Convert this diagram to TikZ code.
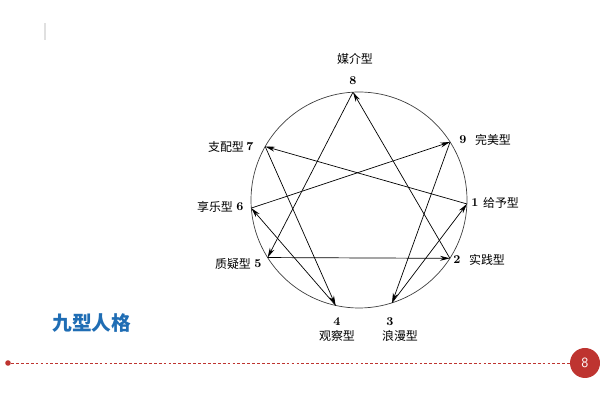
\documentclass[tikz,border=0pt]{standalone}
\usepackage{fontspec}
\newfontfamily\cjk{Noto Sans CJK SC}
\usetikzlibrary{arrows.meta,positioning,calc}
\definecolor{titleblue}{HTML}{1F6DB4}
\definecolor{pagered}{HTML}{BE3430}

\begin{document}
\begin{tikzpicture}[x=0.025cm,y=0.025cm,
    num/.style={font=\fontsize{8.5}{10}\selectfont\bfseries, inner sep=0pt},
    typ/.style={font=\fontsize{8.5}{10}\selectfont\cjk, inner sep=0pt},
    arr/.style={-{Stealth[length=7pt,width=3.5pt]}, line width=0.5pt}]
    \useasboundingbox (0,0) rectangle (600,400);

    \pgfmathsetmacro {\r}{108}          %Radius of circle
    \coordinate (c) at (359,200);       %Centre of circle
    \draw[line width=0.5pt, black!75] (c) circle (\r);

    %Loop for placing the nine points on the circle
    \foreach \n/\a in {8/93.2, 9/32.5, 1/-2.1, 2/-32.7, 3/-72.2,
                       4/-102.5, 5/-147.8, 6/-175.7, 7/150.3} {
        \coordinate (p\n) at ($(c)+(\a:\r)$);
    }

    %Loop for drawing the arrows between points
    \foreach \s/\t in {8/5, 5/2, 2/8, 1/7, 7/4, 4/6, 6/9, 9/3, 3/1} {
        \draw[arr] (p\s) -- (p\t);
    }

    % Numbers
    \node[num] (n8) at (353,319) {8};
    \node[num] (n9) at (463,260) {9};
    \node[num] (n1) at (475,197) {1};
    \node[num] (n2) at (457,140) {2};
    \node[num] (n3) at (390,78)  {3};
    \node[num] (n4) at (337,78)  {4};
    \node[num] (n5) at (258,136) {5};
    \node[num] (n6) at (240,193) {6};
    \node[num] (n7) at (250,253) {7};

    % Type names
    \node[typ] (t8) at (355,341) {媒介型};
    \node[typ] (t9) at (493,260) {完美型};
    \node[typ] (t1) at (501,197) {给予型};
    \node[typ] (t2) at (487,140) {实践型};
    \node[typ] (t3) at (400,64)  {浪漫型};
    \node[typ] (t4) at (337,64)  {观察型};
    \node[typ] (t5) at (233,136) {质疑型};
    \node[typ] (t6) at (215,193) {享乐型};
    \node[typ] (t7) at (226,253) {支配型};

    % Slide frame
    \draw[black!12, line width=1pt] (45,360) -- (45,377);
    \node[font=\fontsize{14}{16}\selectfont\cjk\bfseries, text=titleblue] (title) at (92,77) {九型人格};
    \node[circle, fill=pagered, inner sep=1.4pt] (dot) at (8,37) {};
    \node[circle, fill=pagered, minimum size=0.75cm, inner sep=0pt, text=white,
          font=\fontsize{10}{12}\selectfont\sffamily] (pg) at (585,37) {8};
    \draw[pagered, line width=0.5pt, dash pattern=on 2pt off 1.5pt] (dot) -- (pg);
\end{tikzpicture}
\end{document}
